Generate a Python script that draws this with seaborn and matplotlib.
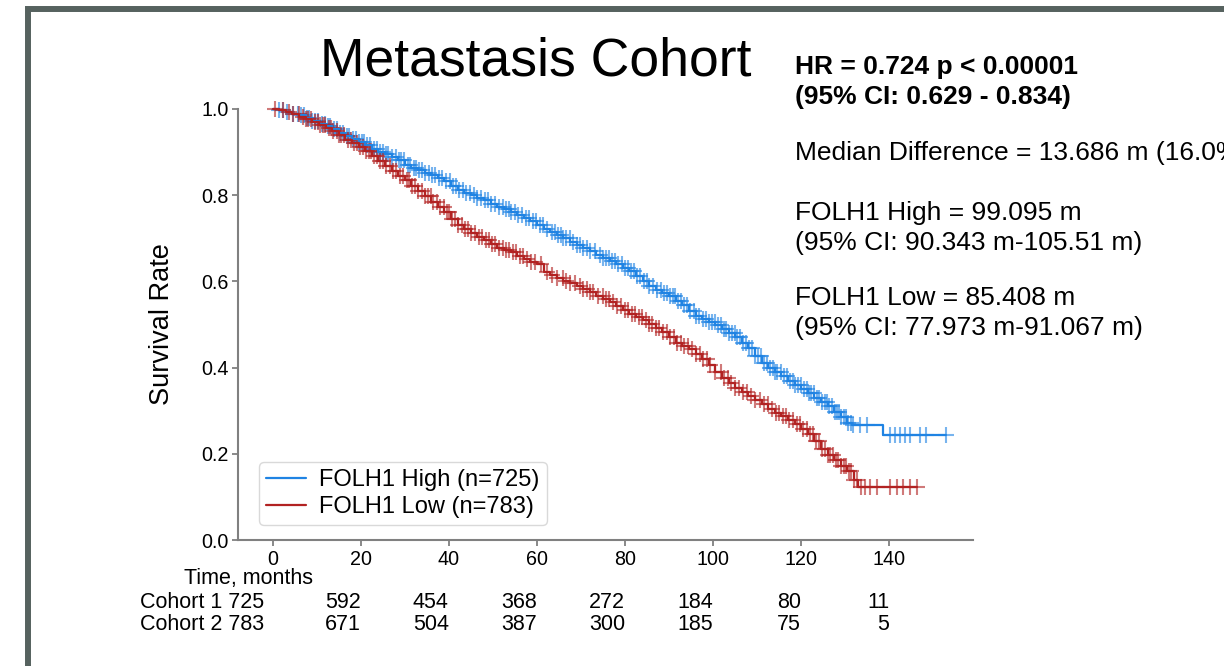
import numpy as np
import pandas as pd
import matplotlib
matplotlib.use("Agg")
import matplotlib.pyplot as plt
from matplotlib.patches import Rectangle
from matplotlib.lines import Line2D
import seaborn as sns

# ---------------- data ----------------
hi_t = [0, 1.5, 3, 4.5, 6, 7.5, 9, 10.5, 12, 13.5, 15, 16.5, 18, 19.5, 21, 22.5, 24, 25.5, 27,
        28.5, 30, 31.5, 33, 34.5, 36, 37.5, 39, 40.5, 42, 43.5, 45, 46.5, 48, 49.5, 51, 52.5,
        54, 55.5, 57, 58.5, 60, 61.5, 63, 64.5, 66, 67.5, 69, 70.5, 72, 73.5, 75, 76.5, 78,
        79.5, 81, 82.5, 84, 85.5, 87, 88.5, 90, 91.5, 93, 94.5, 96, 97.5, 99, 100.5, 102,
        103.5, 105, 106.5, 108, 109.5, 111, 112.5, 114, 115.5, 117, 118.5, 120, 121.5, 123,
        124.5, 126, 127.5, 129, 130.5, 131.5, 138.6]
hi_s = [1.0, 0.997, 0.993, 0.989, 0.985, 0.978, 0.972, 0.966, 0.96, 0.953, 0.945, 0.938, 0.93,
        0.924, 0.916, 0.907, 0.90, 0.895, 0.889, 0.881, 0.870, 0.864, 0.858, 0.852, 0.846,
        0.839, 0.832, 0.822, 0.812, 0.806, 0.80, 0.794, 0.788, 0.780, 0.772, 0.767, 0.762,
        0.755, 0.748, 0.739, 0.73, 0.722, 0.715, 0.708, 0.70, 0.692, 0.685, 0.678, 0.67,
        0.662, 0.655, 0.648, 0.64, 0.632, 0.625, 0.612, 0.60, 0.59, 0.58, 0.572, 0.565,
        0.555, 0.545, 0.532, 0.52, 0.512, 0.505, 0.498, 0.49, 0.48, 0.47, 0.458, 0.445,
        0.428, 0.41, 0.40, 0.39, 0.38, 0.37, 0.36, 0.35, 0.34, 0.33, 0.32, 0.31, 0.297,
        0.285, 0.272, 0.267, 0.244]
lo_t = [0, 1.5, 3, 4.5, 6, 7.5, 9, 10.5, 12, 13.5, 15, 16.5, 18, 19.5, 21, 22.5, 24, 25.5, 27,
        28.5, 30, 31.5, 33, 34.5, 36, 37.5, 39, 40.5, 42, 43.5, 45, 46.5, 48, 49.5, 51, 52.5,
        54, 55.5, 57, 58.5, 60, 61.5, 63, 64.5, 66, 67.5, 69, 70.5, 72, 73.5, 75, 76.5, 78,
        79.5, 81, 82.5, 84, 85.5, 87, 88.5, 90, 91.5, 93, 94.5, 96, 97.5, 99, 100.5, 102,
        103.5, 105, 106.5, 108, 109.5, 111, 112.5, 114, 115.5, 117, 118.5, 120, 121.5, 123,
        124.5, 126, 127.5, 129, 130.5, 132, 133]
lo_s = [1.0, 0.997, 0.992, 0.988, 0.982, 0.977, 0.970, 0.963, 0.955, 0.948, 0.939, 0.929,
        0.92, 0.911, 0.902, 0.891, 0.88, 0.867, 0.855, 0.845, 0.835, 0.822, 0.81, 0.797,
        0.785, 0.772, 0.76, 0.745, 0.73, 0.721, 0.712, 0.703, 0.695, 0.686, 0.678, 0.673,
        0.668, 0.660, 0.652, 0.646, 0.64, 0.622, 0.615, 0.607, 0.602, 0.597, 0.590, 0.583,
        0.575, 0.567, 0.560, 0.553, 0.543, 0.533, 0.525, 0.517, 0.51, 0.502, 0.493, 0.482,
        0.47, 0.458, 0.45, 0.442, 0.432, 0.42, 0.405, 0.39, 0.376, 0.364, 0.353, 0.343,
        0.334, 0.325, 0.315, 0.303, 0.295, 0.287, 0.278, 0.268, 0.257, 0.245, 0.23, 0.21,
        0.197, 0.185, 0.172, 0.16, 0.14, 0.124]

hi_cens = [1.5, 2.3, 3.2, 4.6, 5.8, 6.4, 7.1, 7.7, 8.3, 9.0, 9.6, 10.4, 11.2, 11.8, 12.5, 13.1,
           13.9, 14.6, 15.3, 16.0, 16.8, 17.4, 18.2, 18.9, 19.6, 20.3, 20.8, 21.5, 22.2, 22.9,
           23.6, 24.4, 25.0, 25.7, 26.2, 27.1, 27.9, 28.6, 29.2, 29.8, 30.7, 31.2, 32.0, 32.5,
           33.3, 33.9, 34.6, 35.4, 36.1, 36.9, 37.8, 38.5, 39.4, 40.3, 41.0, 41.6, 42.4, 43.2,
           44.0, 44.8, 45.7, 46.5, 47.3, 48.1, 48.9, 49.6, 50.5, 51.4, 52.2, 53.0, 53.6, 54.2,
           55.0, 55.8, 56.7, 57.5, 58.3, 59.1, 59.9, 60.6, 61.4, 62.3, 63.5, 64.2, 64.8, 65.4,
           66.0, 66.7, 67.4, 68.3, 69.2, 69.8, 70.5, 71.3, 72.1, 73.2, 74.3, 75.0, 75.6, 76.3,
           77.0, 77.7, 78.4, 79.2, 80.1, 80.7, 81.3, 82.0, 82.7, 83.5, 84.2, 84.9, 85.5, 86.4,
           87.3, 88.1, 88.9, 89.6, 90.2, 90.8, 91.4, 92.1, 92.8, 93.4, 94.1, 94.8, 95.6, 96.2,
           96.9, 97.6, 98.3, 99.0, 99.7, 100.4, 101.2, 101.9, 102.5, 103.0, 103.6, 104.2, 104.9,
           105.5, 106.2, 106.8, 107.4, 108.1, 108.8, 109.5, 110.3, 110.9, 111.6, 112.2, 112.9,
           113.5, 114.0, 114.6, 115.3, 116.0, 116.7, 117.4, 118.1, 118.6, 119.2, 119.9, 120.6,
           121.2, 121.8, 122.3, 122.9, 123.5, 124.1, 124.7, 125.3, 125.8, 126.4, 127.0, 127.6,
           128.1, 128.5, 129.1, 129.7, 130.2, 130.6, 131.2, 131.8, 133.4, 135.0, 140.2, 141.3,
           142.4, 143.5, 144.7, 147.0, 148.4, 152.8]
lo_cens = [0.6, 2.4, 3.6, 4.7, 5.9, 6.9, 7.5, 8.1, 8.8, 9.5, 10.2, 10.8, 11.4, 11.9, 12.7, 13.2,
           13.8, 14.5, 15.0, 15.6, 16.2, 17.0, 17.7, 18.5, 19.2, 19.9, 20.5, 21.1, 21.8, 22.4,
           23.1, 23.8, 24.4, 25.1, 25.8, 26.6, 27.3, 28.1, 28.9, 29.6, 30.4, 31.0, 31.7, 32.4,
           33.1, 33.8, 34.5, 35.2, 35.9, 36.5, 37.2, 38.0, 38.8, 39.5, 40.1, 40.8, 41.4, 42.1,
           42.9, 43.6, 44.3, 45.1, 45.9, 46.8, 47.6, 48.4, 49.2, 49.8, 50.5, 51.3, 52.2, 52.9,
           53.7, 54.5, 55.3, 56.1, 56.9, 57.7, 58.6, 59.5, 61.0, 62.2, 63.4, 64.5, 65.9, 66.7,
           67.5, 68.6, 69.8, 70.5, 71.3, 72.0, 72.7, 73.8, 74.9, 75.6, 76.4, 77.3, 78.2, 79.0,
           79.9, 80.7, 81.6, 82.3, 83.1, 83.9, 84.8, 85.5, 86.2, 87.0, 87.7, 88.6, 89.5, 90.3,
           91.1, 91.8, 92.6, 93.5, 94.4, 95.3, 96.2, 97.0, 97.8, 98.6, 99.4, 100.5, 101.7, 102.5,
           103.3, 104.1, 105.0, 105.9, 106.8, 107.7, 108.6, 109.6, 110.7, 111.5, 112.4, 113.3,
           114.2, 115.0, 115.8, 116.5, 117.3, 118.2, 119.1, 119.8, 120.5, 121.2, 121.9, 122.6,
           123.4, 124.0, 124.7, 125.3, 126.0, 126.6, 127.3, 127.9, 128.4, 129.0, 129.6, 130.2,
           130.8, 131.4, 132.0, 132.7, 133.5, 134.4, 135.7, 137.2, 140.2, 141.7, 143.2, 144.7,
           146.2]

groups = ["FOLH1 High", "FOLH1 Low"]
group_n = [725, 783]
colors = ["#1f83e3", "#b22222"]

risk_times = [20, 40, 60, 80, 100, 120, 140]
risk_hi = [592, 454, 368, 272, 184, 80, 11]
risk_lo = [671, 504, 387, 300, 185, 75, 5]
cohort_labels = ["Cohort 1", "Cohort 2"]

title = "Metastasis Cohort"
hr_lines = ["HR = 0.724 p < 0.00001", "(95% CI: 0.629 - 0.834)"]
info_lines = ["Median Difference = 13.686 m (16.0%)",
              "FOLH1 High = 99.095 m", "(95% CI: 90.343 m-105.51 m)",
              "FOLH1 Low = 85.408 m", "(95% CI: 77.973 m-91.067 m)"]

# ---------------- build tables ----------------
def curve_df(t, s, cens, name):
    tt = list(t) + [max(cens)]
    ss = list(s) + [s[-1]]
    return pd.DataFrame({"time": tt, "surv": ss, "group": name})

def cens_df(t, s, cens, name):
    idx = np.searchsorted(np.array(t), np.array(cens), side="right") - 1
    return pd.DataFrame({"time": cens, "surv": np.array(s)[idx], "group": name})

curves = pd.concat([curve_df(hi_t, hi_s, hi_cens, groups[0]),
                    curve_df(lo_t, lo_s, lo_cens, groups[1])], ignore_index=True)
cens = [cens_df(hi_t, hi_s, hi_cens, groups[0]), cens_df(lo_t, lo_s, lo_cens, groups[1])]

# ---------------- style ----------------
sns.set_theme(style="white")
plt.rcParams["font.family"] = ["Liberation Sans", "DejaVu Sans"]
plt.rcParams["text.color"] = "black"
plt.rcParams["axes.labelcolor"] = "black"

W, H = 1224, 666
def fx(px): return px / W
def fy(py): return 1 - py / H

fig = plt.figure(figsize=(W / 100, H / 100), dpi=100)
fig.patch.set_facecolor("white")
ax = fig.add_axes([fx(238.3), fy(540), fx(973) - fx(238.3), fy(109) - fy(540)])

palette = dict(zip(groups, colors))
sns.lineplot(data=curves, x="time", y="surv", hue="group", palette=palette,
             drawstyle="steps-post", estimator=None, sort=False, linewidth=1.6,
             legend=False, ax=ax)
for df, c in zip(cens, colors):
    sns.scatterplot(data=df, x="time", y="surv", marker="+", s=120, color=c,
                    linewidth=1.5, alpha=0.6, legend=False, ax=ax, clip_on=False)
for ln in ax.lines:
    ln.set_clip_on(False)

ax.set_xlim(-7.8, 159)
ax.set_ylim(0, 1.0)
ax.set_xticks([0, 20, 40, 60, 80, 100, 120, 140])
ax.set_yticks([0.0, 0.2, 0.4, 0.6, 0.8, 1.0])
ax.set_yticklabels([f"{v:.1f}" for v in [0.0, 0.2, 0.4, 0.6, 0.8, 1.0]])
ax.set_xlabel("")
ax.set_ylabel("Survival Rate", fontsize=19.5, color="black")
ax.yaxis.set_label_coords(-0.0862, 0.5)
for side in ["top", "right"]:
    ax.spines[side].set_visible(False)
for side in ["left", "bottom"]:
    ax.spines[side].set_color("#808080")
    ax.spines[side].set_linewidth(1.5)
ax.tick_params(axis="both", which="major", direction="out", length=4, width=1.3,
               color="#808080", labelsize=14.2, labelcolor="black")
ax.tick_params(axis="x", pad=3.5, bottom=True)
ax.tick_params(axis="y", pad=3, left=True)

handles = [Line2D([0], [0], color=c, lw=1.6) for c in colors]
labels = [f"{g} (n={n})" for g, n in zip(groups, group_n)]
leg = ax.legend(handles, labels, loc="lower left", bbox_to_anchor=(0.028, 0.035),
                borderaxespad=0, fontsize=17, frameon=True, handlelength=1.7,
                handletextpad=0.55, labelspacing=0.2, borderpad=0.3, fancybox=True)
leg.get_frame().set_edgecolor("#d0d0d0")
leg.get_frame().set_linewidth(1.0)
for t in leg.get_texts():
    t.set_color("black")

# title and annotations
fig.text(fx(536), fy(76), title, fontsize=38.5, ha="center", va="baseline", color="black")
fig.text(fx(795), fy(74), hr_lines[0], fontsize=19, fontweight="bold", ha="left",
         va="baseline", color="black")
fig.text(fx(795), fy(104), hr_lines[1], fontsize=19, fontweight="bold", ha="left",
         va="baseline", color="black")
info_y = [160, 220, 250, 305, 335]
for s, y in zip(info_lines, info_y):
    fig.text(fx(795), fy(y), s, fontsize=19, ha="left", va="baseline", color="black")

# number at risk table
fig.text(fx(248), fy(584), "Time, months", fontsize=15.5, ha="center", va="baseline")
trans = matplotlib.transforms.blended_transform_factory(ax.transData, fig.transFigure)
for lab, n0, vals, y in zip(cohort_labels, group_n, [risk_hi, risk_lo], [608, 630]):
    fig.text(fx(264), fy(y), f"{lab} {n0}", fontsize=15.5, ha="right", va="baseline")
    for t, v in zip(risk_times, vals):
        ax.text(t, fy(y), str(v), transform=trans, fontsize=15.5, ha="right",
                va="baseline", clip_on=False)

# outer frame
fig.add_artist(Rectangle((fx(27.5), -0.1), 1.2, fy(9) + 0.1, transform=fig.transFigure,
                         fill=False, edgecolor="#56625f", linewidth=4.3, clip_on=False))

fig.savefig("out.png", dpi=100)
